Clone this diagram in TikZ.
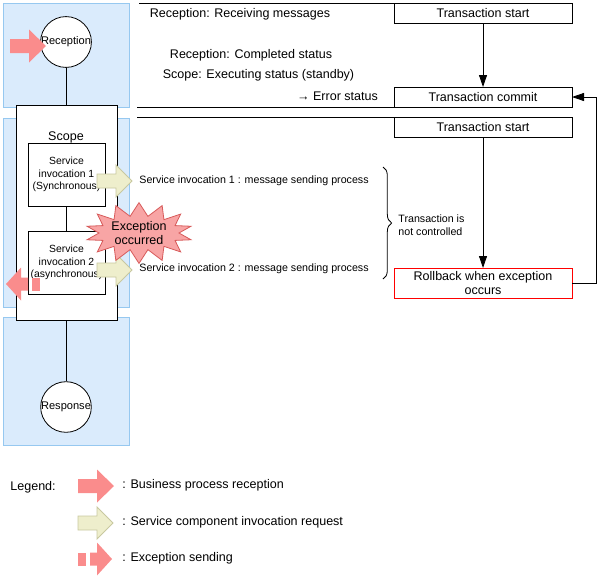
\documentclass[tikz,border=0pt]{standalone}
\usepackage{fontspec}
\setmainfont{Liberation Sans}
\usetikzlibrary{arrows.meta,shapes.symbols,decorations.pathreplacing}

\definecolor{panelblue}{RGB}{218,235,252}
\definecolor{panelline}{RGB}{150,200,240}
\definecolor{recpink}{RGB}{250,140,140}
\definecolor{callfill}{RGB}{238,238,204}
\definecolor{callline}{RGB}{200,200,160}
\definecolor{burstfill}{RGB}{248,165,165}
\definecolor{burstline}{RGB}{215,90,90}

\tikzset{
  panel/.style={draw=panelline, fill=panelblue},
  state/.style={draw, circle, fill=white, minimum size=37.5pt, inner sep=0pt, font=\fontsize{8.3}{9}\selectfont},
  invbox/.style={draw, fill=white, minimum width=57.75pt, minimum height=47.25pt, inner sep=0pt, align=center, font=\fontsize{7.8}{9.5}\selectfont},
  txbox/.style={draw, fill=white, minimum width=133.5pt, minimum height=15pt, inner sep=0pt, outer sep=0pt, align=center, font=\fontsize{9.4}{10.5}\selectfont},
  big/.style={font=\fontsize{9.4}{11.2}\selectfont, inner sep=0pt},
  small/.style={font=\fontsize{8}{9.6}\selectfont, inner sep=0pt},
  flow/.style={-{Triangle[length=9pt,width=6pt]}},
  pics/recarrow/.style={code={
    \fill[recpink] (0,-7) -- (19,-7) -- (19,-16.5) -- (36,0) -- (19,16.5) -- (19,7) -- (0,7) -- cycle;}},
  pics/callarrow/.style={code={
    \filldraw[fill=callfill, draw=callline] (0,-7) -- (19,-7) -- (19,-16) -- (35,0) -- (19,16) -- (19,7) -- (0,7) -- cycle;}},
  pics/excarrow/.style={code={
    \fill[recpink] (0,-6.5) rectangle (8,6.5);
    \fill[recpink] (12,-6.5) -- (19,-6.5) -- (19,-16.5) -- (34,0) -- (19,16.5) -- (19,6.5) -- (12,6.5) -- cycle;}},
}

\begin{document}
\begin{tikzpicture}[x=0.75pt, y=-0.75pt, line width=0.6pt]
\useasboundingbox (0,0) rectangle (599,579);

% blue panels
\draw[panel] (3,3) rectangle (129,107);
\draw[panel] (3,118) rectangle (129,307);
\draw[panel] (3,317) rectangle (129,445);

% process side
\node[state] (rec) at (66,42) {Reception};
\node[draw, fill=white, minimum width=75.75pt, minimum height=161.25pt, inner sep=0pt] (scope) at (66.5,212.5) {};
\node[big] (scopelbl) at (66,137) {Scope};
\node[invbox] (inv1) at (66.5,174.5) {Service\\invocation 1\\(Synchronous)};
\node[invbox] (inv2) at (66.5,262.5) {Service\\invocation 2\\(asynchronous)};
\node[state] (resp) at (66,407) {Response};

\draw (rec) -- (rec |- scope.north);
\draw (inv1) -- (inv2);
\draw (resp |- scope.south) -- (resp);

% block arrows
\pic at (10,46) {recarrow};
\pic at (97,181) {callarrow};
\pic at (97,270) {callarrow};
\pic[rotate=180] at (40,284) {excarrow};

\node[starburst, draw=burstline, fill=burstfill, starburst points=14, starburst point height=10pt,
  random starburst=0, inner sep=0pt, minimum width=80pt, minimum height=31pt, align=center,
  font=\fontsize{9.4}{11.2}\selectfont] (exc) at (139,233) {Exception\\occurred};

% transaction side
\node[txbox] (ts1) at (483,13) {Transaction start};
\node[txbox] (tc) at (483,97) {Transaction commit};
\node[txbox] (ts2) at (483,127) {Transaction start};
\node[txbox, draw=red, minimum height=22.5pt] (rb) at (483,283) {Rollback when exception\\occurs};

\coordinate (top1) at (139,3);
\coordinate (mid1) at (137,107);
\coordinate (mid2) at (137,117);
\draw (top1) -- (ts1.north west);
\draw (mid1) -- (tc.south west);
\draw (mid2) -- (ts2.north west);

\draw[flow] (ts1) -- (tc);
\draw[flow] (ts2) -- (rb);
\draw[flow] (rb.east) -- ++(24,0) |- (tc.east);

% status texts
\node[big] (recv) at (240,14) {Reception: Receiving messages};
\node[big] (done) at (251,55) {Reception: Completed status};
\node[big] (exec) at (258.5,75) {Scope: Executing status (standby)};
\node[big] (err) at (337.5,96) {→ Error status};

\node[small, anchor=west] (send1) at (139,181) {Service invocation 1 : message sending process};
\node[small, anchor=west] (send2) at (139,269) {Service invocation 2 : message sending process};

% brace
\coordinate (brtop) at (383,167);
\coordinate (brbot) at (383,279);
\draw[decorate, decoration={brace, amplitude=6.5pt}] (brtop) -- (brbot);
\node[small, anchor=west, align=left] (nc) at (398,225) {Transaction is\\not controlled};

% legend
\node[big, anchor=west] (leg) at (10,487) {Legend:};
\pic at (78,486) {recarrow};
\pic at (78,523) {callarrow};
\pic at (78,559) {excarrow};
\node[big, anchor=west] (leg1) at (122,485) {: Business process reception};
\node[big, anchor=west] (leg2) at (122,522) {: Service component invocation request};
\node[big, anchor=west] (leg3) at (122,558) {: Exception sending};
\end{tikzpicture}
\end{document}
